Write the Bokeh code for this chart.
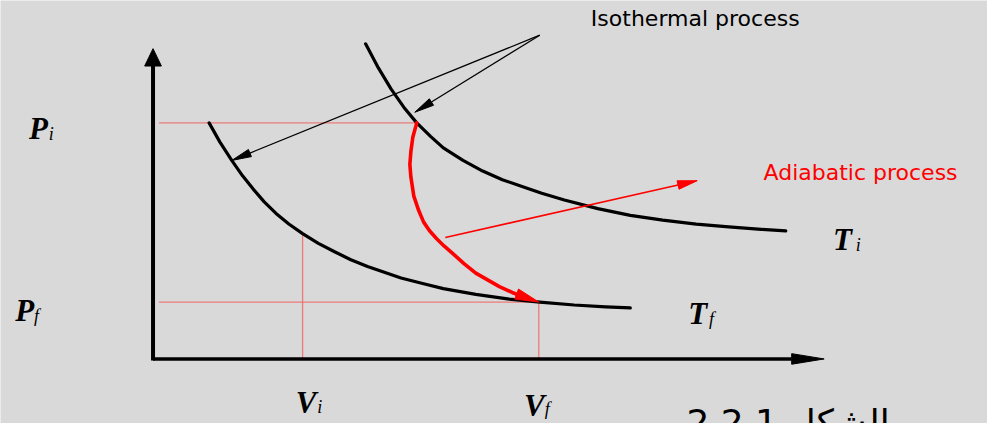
import math
from bokeh.plotting import figure
from bokeh.models import Range1d
from bokeh.core.properties import value
from bokeh.embed import file_html
from bokeh.resources import INLINE

# ---- diagram data (reference pixel coordinates; y grows downward) ----
# isotherm at T_i (upper curve)
ti_v = [371, 384, 397, 410, 423, 437, 450, 470, 490, 510, 530, 550, 573, 607, 640, 673, 707, 740, 773, 798]
ti_p = [45, 70, 92, 111, 127, 141, 153, 166, 177, 186, 193, 200, 207, 216, 223, 228, 232, 235, 237.5, 239]
# isotherm at T_f (lower curve)
tf_v = [212, 223, 235, 246, 257, 268, 280, 293, 307, 323, 340, 356, 373, 390, 407, 430, 450, 483, 517, 548, 583, 615, 640]
tf_p = [127, 147, 166, 182, 196, 209, 221, 232, 242, 252, 261, 269, 276, 282, 288, 294, 299, 305, 310, 313, 316, 318, 319]
# adiabatic path (red), ending with an arrow head at (V_f, P_f)
ad_v = [423, 419, 417, 416, 417, 420, 425, 430, 436, 443, 451, 460, 471, 483, 495, 507, 520, 530, 537]
ad_p = [127, 142, 157, 170, 183, 203, 218, 230, 239, 247, 255, 263, 273, 283, 290, 297, 303, 307, 310]

# state points
V_i, V_f = 307, 547
P_i, P_f = 127, 313
V_i_curve = 243            # P on lower isotherm at V_i
axis_x0, axis_y0 = 155, 372
axis_x_end, axis_y_end = 837, 50

# annotation arrows
iso_src = (548, 36)
iso_tips = [(235, 166), (421, 116)]
adia_src = (452, 246)
adia_tip = (708, 187)

# labels
iso_label = "Isothermal process"
adia_label = "Adiabatic process"
caption = "الشكل 2.2.1"
main_t = ["P", "P", "T", "T", "V", "V"]
sub_t = ["i", "f", "i", "f", "i", "f"]

BG = "#d9d9d9"
RED = "#ff0000"
GUIDE = "#f06a6a"

p = figure(width=987, height=423, x_range=Range1d(0, 1003), y_range=Range1d(439, 0),
           output_backend="svg", toolbar_location=None, min_border=0,
           x_axis_location=None, y_axis_location=None)
p.grid.visible = False
p.outline_line_color = None
p.background_fill_color = BG
p.border_fill_color = BG


def head(tip, frm, length, width):
    dx, dy = tip[0] - frm[0], tip[1] - frm[1]
    d = math.hypot(dx, dy)
    ux, uy = dx / d, dy / d
    bx, by = tip[0] - ux * length, tip[1] - uy * length
    nx, ny = -uy * width / 2, ux * width / 2
    return [tip[0], bx + nx, bx - nx], [tip[1], by + ny, by - ny]


# guide lines
p.line([axis_x0 + 6, ti_v[4]], [P_i, P_i], line_color=GUIDE, line_width=1.3, line_alpha=0.85)
p.line([axis_x0 + 6, V_f], [P_f, P_f], line_color=GUIDE, line_width=1.3, line_alpha=0.85)
p.line([V_i, V_i], [V_i_curve, axis_y0], line_color=GUIDE, line_width=1.3, line_alpha=0.85)
p.line([V_f, V_f], [P_f, axis_y0], line_color=GUIDE, line_width=1.3, line_alpha=0.85)

# axes with arrow heads
xh, yh = head((axis_x_end, axis_y0), (axis_x0, axis_y0), 33, 11)
p.line([axis_x0, xh[1]], [axis_y0, axis_y0], line_color="black", line_width=3.5)
p.patch(xh, yh, fill_color="black", line_color="black", line_width=1)
xh, yh = head((axis_x0, axis_y_end), (axis_x0, axis_y0), 18, 17)
p.line([axis_x0, axis_x0], [axis_y0 + 1.5, yh[1]], line_color="black", line_width=4)
p.patch(xh, yh, fill_color="black", line_color="black", line_width=1)

# isotherms
p.line(ti_v, ti_p, line_color="black", line_width=3.2, line_join="round", line_cap="round")
p.line(tf_v, tf_p, line_color="black", line_width=3.2, line_join="round", line_cap="round")

# adiabatic
p.line(ad_v, ad_p, line_color=RED, line_width=3.6, line_join="round", line_cap="round")
xh, yh = head((V_f, P_f), (ad_v[-3], ad_p[-3]), 24, 11)
p.patch(xh, yh, fill_color=RED, line_color=RED, line_width=1)

# isothermal annotation arrows
for tip in iso_tips:
    xh, yh = head(tip, iso_src, 20, 8)
    p.line([iso_src[0], (xh[1] + xh[2]) / 2], [iso_src[1], (yh[1] + yh[2]) / 2],
           line_color="black", line_width=1.3)
    p.patch(xh, yh, fill_color="black", line_color="black", line_width=1)

# adiabatic annotation arrow
xh, yh = head(adia_tip, adia_src, 20, 9)
p.line([adia_src[0], (xh[1] + xh[2]) / 2], [adia_src[1], (yh[1] + yh[2]) / 2],
       line_color=RED, line_width=1.6)
p.patch(xh, yh, fill_color=RED, line_color=RED, line_width=1)

# text labels
p.text(x=[706], y=[19], text=[iso_label], text_font=value("DejaVu Sans"), text_font_size="22px",
       text_align="center", text_baseline="middle", text_color="black")
p.text(x=[874], y=[178], text=[adia_label], text_font=value("DejaVu Sans"), text_font_size="22px",
       text_align="center", text_baseline="middle", text_color=RED)

serif = value("Liberation Serif")
main_x = [29, 15, 846, 699, 300, 532]
main_y = [133, 322, 248, 325, 417, 420]
p.text(x=main_x, y=main_y, text=main_t, text_font=serif, text_font_size="31px",
       text_font_style="bold italic", text_baseline="alphabetic", text_align="left", text_color="black")
sub_x = [49, 34, 869, 720, 322, 553]
sub_y = [139, 327, 254, 331, 422, 424]
p.text(x=sub_x, y=sub_y, text=sub_t, text_font=serif, text_font_size="18px",
       text_font_style="italic", text_baseline="alphabetic", text_align="left", text_color="black")

p.text(x=[697], y=[417], text=[caption], text_font=value("DejaVu Sans"), text_font_size="36px",
       text_align="left", text_baseline="top", text_color="black")

open("out.html", "w").write(file_html(p, INLINE))
